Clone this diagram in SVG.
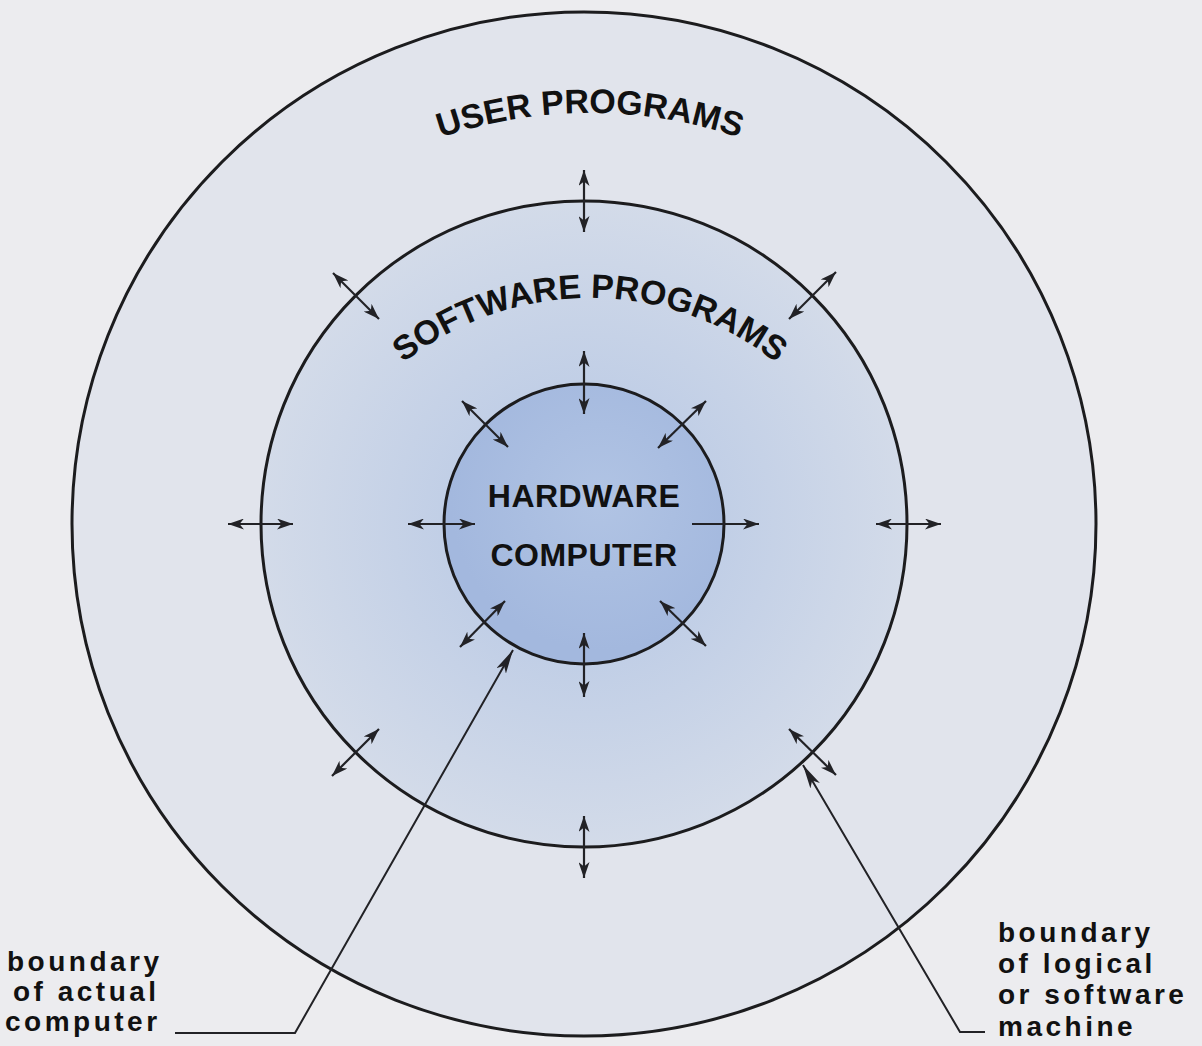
<svg xmlns="http://www.w3.org/2000/svg" width="1202" height="1046" viewBox="0 0 1202 1046">
  <style>
    .ring { stroke: #1c1c1e; stroke-width: 3; }
    .arr { stroke: #222226; stroke-width: 2.2; fill: none; }
    .ptr { stroke: #222226; stroke-width: 2; fill: none; }
    .title { font-family: "Liberation Sans", Arial, sans-serif; font-weight: bold; font-size: 34px; fill: #111; }
    .hw { font-family: "Liberation Sans", Arial, sans-serif; font-weight: bold; font-size: 32px; fill: #111; text-anchor: middle; letter-spacing: 0.5px; }
    .lbl { font-family: "Liberation Sans", Arial, sans-serif; font-weight: bold; font-size: 28px; fill: #111; letter-spacing: 3.5px; }
  </style>
  <defs>
    <marker id="ah" viewBox="0 0 16 11" refX="16" refY="5.5" markerWidth="16" markerHeight="11" markerUnits="userSpaceOnUse" orient="auto-start-reverse">
      <path d="M0,0 L16,5.5 L0,11 L4.5,5.5 z" fill="#222226"/>
    </marker>
    <marker id="ph" viewBox="0 0 24 11" refX="24" refY="5.5" markerWidth="24" markerHeight="11" markerUnits="userSpaceOnUse" orient="auto">
      <path d="M0,0 L24,5.5 L0,11 L6,5.5 z" fill="#222226"/>
    </marker>
    <radialGradient id="gMid" cx="584" cy="524" r="323" gradientUnits="userSpaceOnUse">
      <stop offset="0.4" stop-color="#c0cee6"/>
      <stop offset="1" stop-color="#d3dbe9"/>
    </radialGradient>
    <radialGradient id="gIn" cx="600" cy="500" r="150" gradientUnits="userSpaceOnUse">
      <stop offset="0" stop-color="#b1c4e4"/>
      <stop offset="1" stop-color="#a3b8de"/>
    </radialGradient>
    <path id="arcUser" d="M 125,578 A 465 465 0 0 1 1055,578"/>
    <path id="arcSoft" d="M 290,598 A 300 300 0 0 1 890,598"/>
  </defs>

  <rect x="0" y="0" width="1202" height="1046" fill="#ececef"/>

  <g id="user-programs">
    <circle class="ring" cx="584" cy="524" r="512" fill="#e1e4ec"/>
    <text class="title"><textPath href="#arcUser" startOffset="50%" text-anchor="middle">USER PROGRAMS</textPath></text>
  </g>

  <g id="software-programs">
    <circle class="ring" cx="584" cy="524" r="323" fill="url(#gMid)"/>
    <text class="title"><textPath href="#arcSoft" startOffset="50%" text-anchor="middle">SOFTWARE PROGRAMS</textPath></text>
  </g>

  <g id="hardware-computer">
    <circle class="ring" cx="584" cy="524" r="140" fill="url(#gIn)"/>
    <text class="hw" x="584" y="507">HARDWARE</text>
    <text class="hw" x="584" y="566">COMPUTER</text>
  </g>

  <g id="connectors">
    <!-- outer boundary arrows -->
    <line class="arr" x1="584" y1="170" x2="584" y2="232" marker-start="url(#ah)" marker-end="url(#ah)"/>
    <line class="arr" x1="584" y1="816" x2="584" y2="878" marker-start="url(#ah)" marker-end="url(#ah)"/>
    <line class="arr" x1="228" y1="524" x2="293" y2="524" marker-start="url(#ah)" marker-end="url(#ah)"/>
    <line class="arr" x1="876" y1="524" x2="941" y2="524" marker-start="url(#ah)" marker-end="url(#ah)"/>
    <line class="arr" x1="836" y1="272" x2="789" y2="319" marker-start="url(#ah)" marker-end="url(#ah)"/>
    <line class="arr" x1="333" y1="273" x2="379" y2="319" marker-start="url(#ah)" marker-end="url(#ah)"/>
    <line class="arr" x1="789" y1="729" x2="836" y2="775" marker-start="url(#ah)" marker-end="url(#ah)"/>
    <line class="arr" x1="379" y1="729" x2="332" y2="776" marker-start="url(#ah)" marker-end="url(#ah)"/>
    <!-- inner boundary arrows -->
    <line class="arr" x1="584" y1="351" x2="584" y2="414" marker-start="url(#ah)" marker-end="url(#ah)"/>
    <line class="arr" x1="584" y1="633" x2="584" y2="697" marker-start="url(#ah)" marker-end="url(#ah)"/>
    <line class="arr" x1="408" y1="524" x2="475" y2="524" marker-start="url(#ah)" marker-end="url(#ah)"/>
    <line class="arr" x1="692" y1="524" x2="759" y2="524" marker-end="url(#ah)"/>
    <line class="arr" x1="462" y1="401" x2="508" y2="447" marker-start="url(#ah)" marker-end="url(#ah)"/>
    <line class="arr" x1="706" y1="401" x2="658" y2="448" marker-start="url(#ah)" marker-end="url(#ah)"/>
    <line class="arr" x1="505" y1="601" x2="460" y2="647" marker-start="url(#ah)" marker-end="url(#ah)"/>
    <line class="arr" x1="660" y1="601" x2="706" y2="646" marker-start="url(#ah)" marker-end="url(#ah)"/>
    <!-- label pointers -->
    <polyline class="ptr" points="175,1033 295,1033 513,650" marker-end="url(#ph)"/>
    <polyline class="ptr" points="985,1032 960,1032 803,765" marker-end="url(#ph)"/>
  </g>

  <g id="label-actual">
    <text class="lbl" x="7" y="971">boundary</text>
    <text class="lbl" x="13" y="1001">of actual</text>
    <text class="lbl" x="5" y="1031">computer</text>
  </g>

  <g id="label-logical">
    <text class="lbl" x="998" y="942">boundary</text>
    <text class="lbl" x="998" y="973">of logical</text>
    <text class="lbl" x="998" y="1004">or software</text>
    <text class="lbl" x="998" y="1036">machine</text>
  </g>
</svg>
